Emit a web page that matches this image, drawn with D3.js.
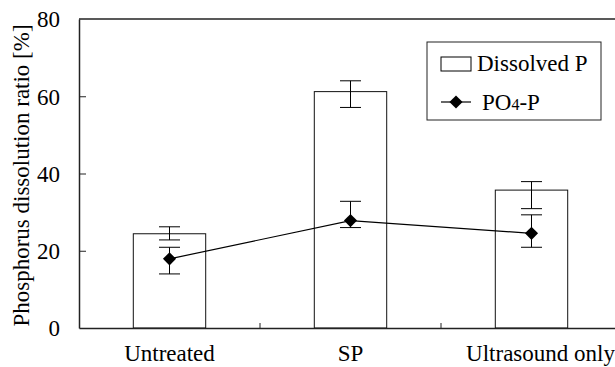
<!DOCTYPE html>
<html>
<head>
<meta charset="utf-8">
<script src="https://cdn.jsdelivr.net/npm/d3@7"></script>
<style>
  body { margin: 0; background: #fff; }
  svg text { font-family: "Liberation Serif", "Times New Roman", Times, "DejaVu Serif", serif !important; fill: #000; }
</style>
</head>
<body>
<div id="chart"></div>
<script>
// data
var categories = ["Untreated", "SP", "Ultrasound only"];
var dissolved = [24.4, 61.2, 35.7];
var dissolvedHi = [26.2, 64.0, 37.9];
var dissolvedLo = [22.8, 57.1, 30.9];
var po4 = [17.9, 27.8, 24.5];
var po4Hi = [20.9, 32.8, 29.3];
var po4Lo = [14.0, 26.0, 20.9];
var yTicks = [0, 20, 40, 60, 80];

var W = 615, H = 367;
var margin = {top: 19, left: 79, bottom: 39, right: -7}; // plot runs past the right edge
var width = W - margin.left - margin.right,
    height = H - margin.top - margin.bottom;

var svg = d3.select("#chart").append("svg")
    .attr("width", W)
    .attr("height", H)
    .append("g")
    .attr("transform", "translate(" + margin.left + "," + margin.top + ")");

var x = d3.scaleBand()
    .domain(categories)
    .range([0, width])
    .paddingInner(0.6)
    .paddingOuter(0.3);

var y = d3.scaleLinear()
    .domain([0, 80])
    .range([height, 0]);

// top frame line
svg.append("line")
    .attr("x1", 0).attr("x2", width)
    .attr("y1", 0).attr("y2", 0)
    .attr("stroke", "#222").attr("stroke-width", 1.5);

// bars
svg.selectAll(".bar")
    .data(dissolved)
    .enter().append("rect")
    .attr("class", "bar")
    .attr("x", function(d, i) { return x(categories[i]); })
    .attr("y", function(d) { return y(d); })
    .attr("width", x.bandwidth())
    .attr("height", function(d) { return height - y(d); })
    .attr("fill", "#fff")
    .attr("stroke", "#111")
    .attr("stroke-width", 1);

function errorBars(hi, lo, cls) {
    var g = svg.selectAll("." + cls)
        .data(hi)
        .enter().append("g")
        .attr("class", cls)
        .attr("transform", function(d, i) {
            return "translate(" + (x(categories[i]) + x.bandwidth() / 2) + ",0)";
        });
    g.append("line")
        .attr("y1", function(d) { return y(d); })
        .attr("y2", function(d, i) { return y(lo[i]); })
        .attr("stroke", "#000");
    g.append("line")
        .attr("x1", -10.5).attr("x2", 10.5)
        .attr("y1", function(d) { return y(d); })
        .attr("y2", function(d) { return y(d); })
        .attr("stroke", "#000");
    g.append("line")
        .attr("x1", -10.5).attr("x2", 10.5)
        .attr("y1", function(d, i) { return y(lo[i]); })
        .attr("y2", function(d, i) { return y(lo[i]); })
        .attr("stroke", "#000");
}

errorBars(dissolvedHi, dissolvedLo, "errD");
errorBars(po4Hi, po4Lo, "errP");

// PO4-P line
var line = d3.line()
    .x(function(d, i) { return x(categories[i]) + x.bandwidth() / 2; })
    .y(function(d) { return y(d); });

svg.append("path")
    .datum(po4)
    .attr("d", line)
    .attr("fill", "none")
    .attr("stroke", "#000")
    .attr("stroke-width", 1.2);

var diamond = d3.symbol().type(d3.symbolDiamond2).size(110);

svg.selectAll(".dot")
    .data(po4)
    .enter().append("path")
    .attr("class", "dot")
    .attr("d", diamond)
    .attr("transform", function(d, i) {
        return "translate(" + (x(categories[i]) + x.bandwidth() / 2) + "," + y(d) + ")";
    })
    .attr("fill", "#000");

// y axis, inward ticks
var yAxis = svg.append("g")
    .call(d3.axisLeft(y).tickValues(yTicks).tickSize(-7).tickPadding(19).tickSizeOuter(0));
yAxis.attr("font-family", null).attr("font-size", null);
yAxis.select(".domain").attr("stroke", "#222").attr("stroke-width", 1.5);
yAxis.selectAll(".tick line").attr("stroke", "#222");
yAxis.selectAll(".tick").filter(function(d) { return d === 0 || d === 80; }).select("line").remove();
yAxis.selectAll("text").style("font-size", "23px").attr("dy", "0.34em");

// x axis: labels at band centres, ticks between bands
var xAxis = svg.append("g")
    .attr("transform", "translate(0," + height + ")")
    .call(d3.axisBottom(x).tickSize(0).tickPadding(17).tickSizeOuter(0));
xAxis.attr("font-family", null).attr("font-size", null);
xAxis.select(".domain").attr("stroke", "#222").attr("stroke-width", 1.5);
xAxis.selectAll("text").style("font-size", "23px");
// last label sits a little right of its bar in the original
xAxis.selectAll("text").filter(function(d) { return d === "Ultrasound only"; }).attr("dx", 9);

var bounds = categories.slice(0, -1).map(function(c) {
    return x(c) + x.bandwidth() + x.step() * x.paddingInner() / 2;
});
svg.selectAll(".xtick")
    .data(bounds)
    .enter().append("line")
    .attr("class", "xtick")
    .attr("x1", function(d) { return d; })
    .attr("x2", function(d) { return d; })
    .attr("y1", height)
    .attr("y2", height - 5)
    .attr("stroke", "#222");

// y label
svg.append("text")
    .attr("transform", "rotate(-90)")
    .attr("x", -(height / 2) - 2)
    .attr("y", -50)
    .style("text-anchor", "middle")
    .style("font-size", "23px")
    .text("Phosphorus dissolution ratio [%]");

// legend
var lg = svg.append("g").attr("transform", "translate(" + (427 - margin.left) + "," + (42 - margin.top) + ")");
lg.append("rect")
    .attr("width", 174).attr("height", 78)
    .attr("fill", "#fff").attr("stroke", "#222").attr("stroke-width", 1);
lg.append("rect")
    .attr("x", 14).attr("y", 15).attr("width", 30).attr("height", 14)
    .attr("fill", "#fff").attr("stroke", "#000");
lg.append("text")
    .attr("x", 50).attr("y", 29)
    .style("font-size", "23px")
    .text("Dissolved P");
lg.append("line")
    .attr("x1", 14).attr("x2", 44).attr("y1", 60).attr("y2", 60)
    .attr("stroke", "#000").attr("stroke-width", 1.2);
lg.append("path")
    .attr("d", diamond)
    .attr("transform", "translate(29,60)")
    .attr("fill", "#000");
var t = lg.append("text")
    .attr("x", 55).attr("y", 68)
    .style("font-size", "23px");
t.append("tspan").text("PO");
t.append("tspan").style("font-size", "16px").text("4");
t.append("tspan").text("-P");
</script>
</body>
</html>
